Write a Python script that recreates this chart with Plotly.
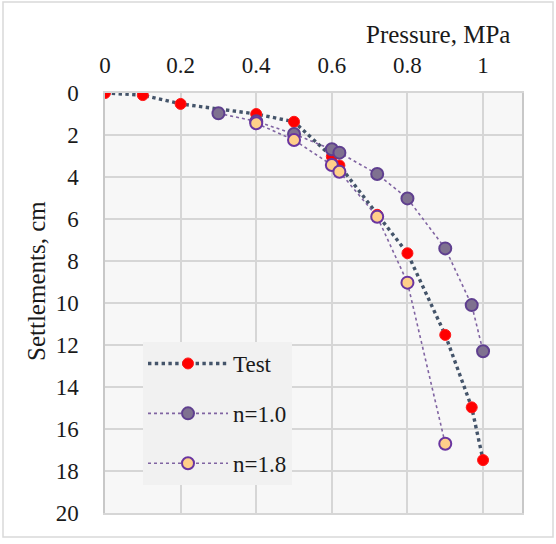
import plotly.graph_objects as go

# ---- data ----
test_p = [0, 0.1, 0.2, 0.4, 0.5, 0.6, 0.62, 0.72, 0.8, 0.9, 0.97, 1.0]
test_s = [0, 0.1, 0.52, 1.0, 1.37, 3.03, 3.45, 5.8, 7.63, 11.52, 14.97, 17.48]

n10_p = [0.3, 0.4, 0.5, 0.6, 0.62, 0.72, 0.8, 0.9, 0.97, 1.0]
n10_s = [0.97, 1.35, 1.95, 2.68, 2.84, 3.86, 5.02, 7.4, 10.1, 12.3]

n18_p = [0.4, 0.5, 0.6, 0.62, 0.72, 0.8, 0.9]
n18_s = [1.44, 2.24, 3.43, 3.75, 5.89, 9.03, 16.7]

x_ticks = [0, 0.2, 0.4, 0.6, 0.8, 1]
x_tick_text = ["0", "0.2", "0.4", "0.6", "0.8", "1"]
y_ticks = [0, 2, 4, 6, 8, 10, 12, 14, 16, 18, 20]

FONT = "Liberation Serif"
FS = 23
FT = 25

fig = go.Figure()
fig.add_trace(go.Scatter(
    x=test_p, y=test_s, name="Test", mode="lines+markers",
    legendgroup="a",
    line=dict(color="#44546a", width=3.4, dash="dot"),
    marker=dict(color="#ff0000", size=11, line=dict(color="#ff1a1a", width=1)),
))
fig.add_trace(go.Scatter(
    x=n10_p, y=n10_s, name="n=1.0", mode="lines+markers",
    legendgroup="b",
    line=dict(color="#8064a2", width=1.6, dash="dot"),
    marker=dict(color="#7f7190", size=12, line=dict(color="#5f3f8f", width=2)),
))
fig.add_trace(go.Scatter(
    x=n18_p, y=n18_s, name="n=1.8", mode="lines+markers",
    legendgroup="c",
    line=dict(color="#8064a2", width=1.6, dash="dot"),
    marker=dict(color="#ffcf8a", size=12, line=dict(color="#6a35a0", width=2)),
))

fig.update_layout(
    width=556, height=544,
    margin=dict(l=105, r=34, t=93, b=31),
    paper_bgcolor="white",
    plot_bgcolor="#f7f7f7",
    font=dict(family=FONT, size=FS, color="#1a1a1a"),
    showlegend=True,
    legend=dict(
        x=(143 - 105) / 417, y=(513 - 342) / 420, xanchor="left", yanchor="top",
        bgcolor="#f1f1f1", borderwidth=0,
        font=dict(family=FONT, size=FS, color="#1a1a1a"),
        itemwidth=80, tracegroupgap=17,
    ),
    xaxis=dict(
        side="top", range=[0, 1.103], tickvals=x_ticks, ticktext=x_tick_text,
        showgrid=True, gridcolor="#d6d6d6", gridwidth=1.5,
        zeroline=False, showline=True, linecolor="#d6d6d6", linewidth=1.5, mirror=True,
        ticks="", ticklabelstandoff=9,
        tickfont=dict(family=FONT, size=FS, color="#1a1a1a"),
    ),
    yaxis=dict(
        range=[20, 0], tickvals=y_ticks,
        showgrid=True, gridcolor="#d6d6d6", gridwidth=1.5,
        zeroline=False, showline=True, linecolor="#c8c8c8", linewidth=1.5, mirror=True,
        ticks="", ticklabelstandoff=20,
        tickfont=dict(family=FONT, size=FS, color="#1a1a1a"),
    ),
    annotations=[
        dict(text="Pressure, MPa", xref="paper", yref="paper",
             x=(438 - 105) / 417, y=(513 - 34) / 420,
             xanchor="center", yanchor="middle", showarrow=False,
             font=dict(family=FONT, size=FT, color="#1a1a1a")),
        dict(text="Settlements, cm", xref="paper", yref="paper",
             x=(36 - 105) / 417, y=(513 - 281) / 420, textangle=-90,
             xanchor="center", yanchor="middle", showarrow=False,
             font=dict(family=FONT, size=FT, color="#1a1a1a")),
    ],
    shapes=[
        dict(type="rect", xref="paper", yref="paper",
             x0=(3 - 105) / 417, x1=(553 - 105) / 417,
             y0=(513 - 537) / 420, y1=(513 - 2) / 420,
             line=dict(color="#d9d9d9", width=1.5), fillcolor="rgba(0,0,0,0)",
             layer="below"),
    ],
)

fig.write_html("out.html", config={"displayModeBar": False},
               post_script="document.body.style.margin='0';")
